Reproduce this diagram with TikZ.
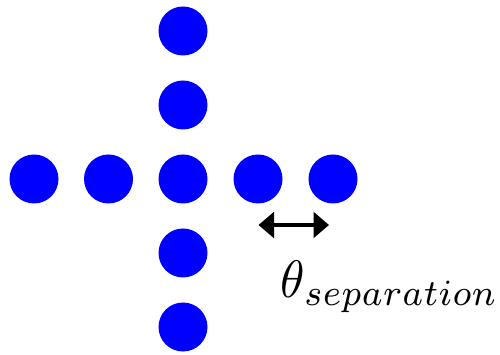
\documentclass[tikz,border=0pt]{standalone}
\usetikzlibrary{arrows.meta}
\begin{document}
\begin{tikzpicture}[dot/.style={circle, fill=blue, minimum size=0.98cm, inner sep=0pt}, sep/.style={{Triangle[length=0.31cm, width=0.51cm]}-{Triangle[length=0.31cm, width=0.51cm]}, line width=0.08cm}]
	\useasboundingbox (0,0) rectangle (10,7.08);
	\foreach \i/\x in {1/0.68, 2/2.17, 3/3.66, 4/5.16, 5/6.66}
		\node[dot] (h\i) at (\x, 3.5) {};
	\foreach \i/\y in {1/6.46, 2/4.98, 4/2.02, 5/0.54}
		\node[dot] (v\i) at (3.66, \y) {};
	\coordinate (sepL) at (5.17, 2.58);
	\coordinate (sepR) at (6.58, 2.58);
	\draw[sep] (sepL) -- (sepR);
	\node[anchor=base west, inner sep=0pt, xscale=2.8, yscale=3] (label) at (5.6, 1.12) {$\theta_{separation}$};
\end{tikzpicture}
\end{document}
